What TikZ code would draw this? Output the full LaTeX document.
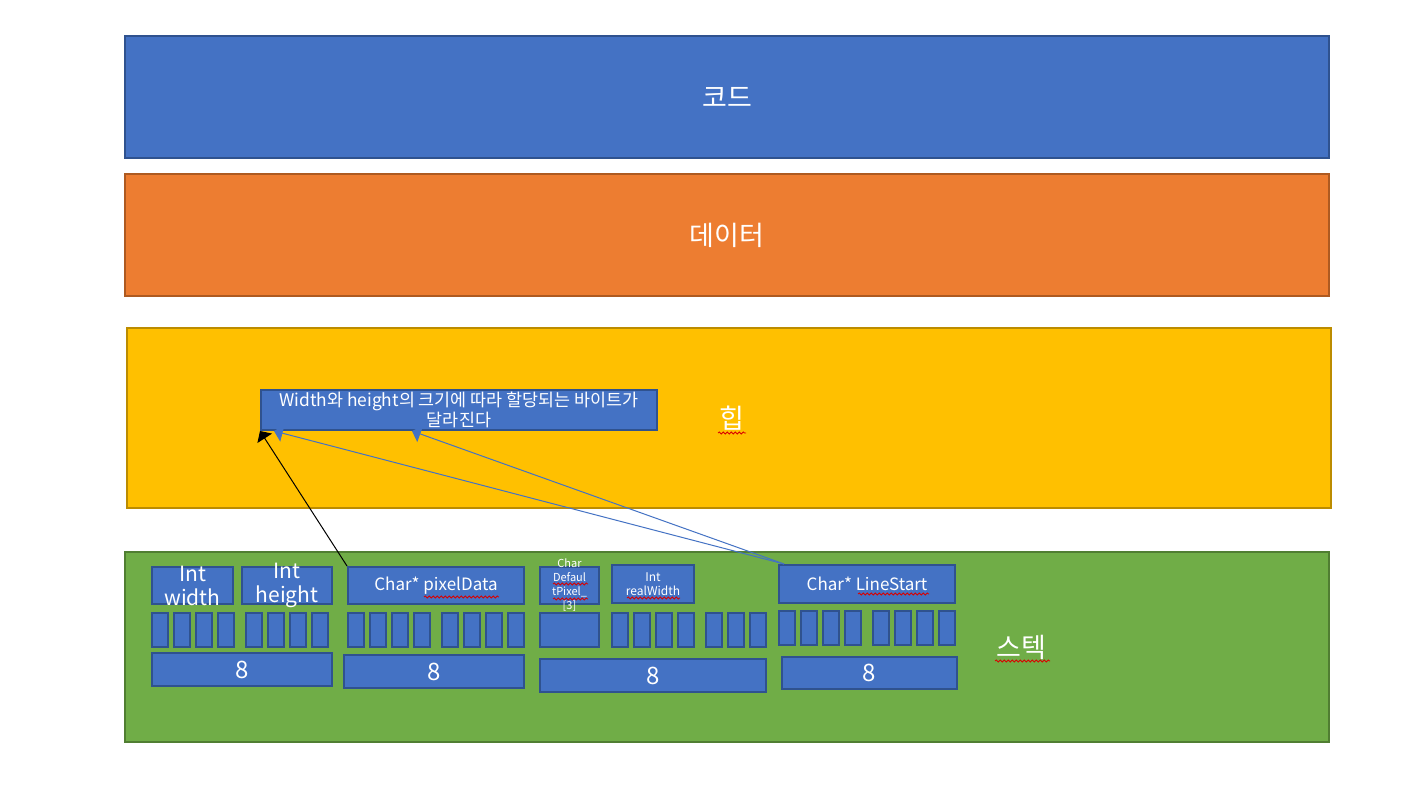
\documentclass[tikz,border=0pt]{standalone}
\usepackage{fontspec}
\setmainfont{Noto Sans CJK KR}
\usetikzlibrary{arrows,fit}
\usetikzlibrary{decorations.pathmorphing}

\definecolor{memblue}{HTML}{4472C4}
\definecolor{memblueedge}{HTML}{2F528F}
\definecolor{memorange}{HTML}{ED7D31}
\definecolor{memorangeedge}{HTML}{AE5A21}
\definecolor{memyellow}{HTML}{FFC000}
\definecolor{memyellowedge}{HTML}{BC8C00}
\definecolor{memgreen}{HTML}{70AD47}
\definecolor{memgreenedge}{HTML}{507E32}

\begin{document}
\begin{tikzpicture}[x=0.5pt, y=-0.5pt, >=triangle 90,
  seg/.style={draw, line width=1pt, inner sep=0pt},
  cell/.style={draw=memblueedge, fill=memblue, line width=1pt, inner sep=0pt},
  byte/.style={cell, minimum width=8pt, minimum height=17pt},
  lbl/.style={text=white, align=center, inner sep=0pt},
  big/.style={lbl, font=\fontsize{13.5}{16}\selectfont},
  spell/.style={red!85!black, line width=0.4pt, decorate,
    decoration={snake, amplitude=0.5pt, segment length=2pt}}]
\useasboundingbox [fill=white] (0,0) rectangle (1413,785);

% memory segments
\node [seg, draw=memblueedge, fill=memblue, fit={(125,36) (1329,158)},
  label={[big]center:코드}] (code) {};
\node [seg, draw=memorangeedge, fill=memorange, fit={(125,174) (1329,296)},
  label={[big]center:데이터}] (data) {};
\node [seg, draw=memyellowedge, fill=memyellow, fit={(127,328) (1331,508)}] (heap) {};
\node [seg, draw=memgreenedge, fill=memgreen, fit={(125,552) (1329,742)}] (stack) {};
\node [big] (heaplbl) at (732,418) {힙};
\node [big] (stacklbl) at (1021,647) {스텍};

% heap note
\node [cell, fit={(261,390) (657,430)},
  label={[lbl, font=\fontsize{8.7}{10}\selectfont]center:Width와 height의 크기에 따라 할당되는 바이트가\\달라진다}] (note) {};

% stack variables
\node [cell, fit={(152,567) (233,604)},
  label={[lbl, font=\fontsize{10.5}{12}\selectfont]center:Int\\width}] (iwidth) {};
\node [cell, fit={(242,567) (332,604)},
  label={[lbl, font=\fontsize{10.5}{12}\selectfont]center:Int\\height}] (iheight) {};
\node [cell, fit={(348,567) (524,604)},
  label={[lbl, font=\fontsize{8.5}{10}\selectfont]center:Char* pixelData}] (pdata) {};
\node [cell, fit={(540,567) (599,604)},
  label={[lbl, font=\fontsize{5.5}{7}\selectfont]center:Char\\Defaul\\tPixel\_\\{[3]}}] (dpixel) {};
\node [cell, fit={(612,565) (694,603)},
  label={[lbl, font=\fontsize{6}{7}\selectfont]center:Int\\realWidth}] (rwidth) {};
\node [cell, fit={(779,565) (955,603)},
  label={[lbl, font=\fontsize{8.5}{10}\selectfont]center:Char* LineStart}] (lstart) {};

% bytes
\node [byte] (w1) at (160,630) {}; \node [byte] (w2) at (182,630) {};
\node [byte] (w3) at (204,630) {}; \node [byte] (w4) at (226,630) {};
\node [byte] (h1) at (254,630) {}; \node [byte] (h2) at (276,630) {};
\node [byte] (h3) at (298,630) {}; \node [byte] (h4) at (320,630) {};
\node [byte] (p1) at (356,630) {}; \node [byte] (p2) at (378,630) {};
\node [byte] (p3) at (400,630) {}; \node [byte] (p4) at (422,630) {};
\node [byte] (p5) at (450,630) {}; \node [byte] (p6) at (472,630) {};
\node [byte] (p7) at (494,630) {}; \node [byte] (p8) at (516,630) {};
\node [cell, fit={(540,613) (599,647)}] (d1) {};
\node [byte] (r1) at (620,630) {}; \node [byte] (r2) at (642,630) {};
\node [byte] (r3) at (664,630) {}; \node [byte] (r4) at (686,630) {};
\node [byte] (r5) at (714,630) {}; \node [byte] (r6) at (736,630) {};
\node [byte] (r7) at (758,630) {};
\node [byte] (l1) at (787,627.5) {}; \node [byte] (l2) at (809,627.5) {};
\node [byte] (l3) at (831,627.5) {}; \node [byte] (l4) at (853,627.5) {};
\node [byte] (l5) at (881,627.5) {}; \node [byte] (l6) at (903,627.5) {};
\node [byte] (l7) at (925,627.5) {}; \node [byte] (l8) at (947,627.5) {};

% sizes
\begin{scope}[every label/.style={lbl, font=\fontsize{12}{14}\selectfont}]
  \node [cell, fit={(152,653) (332,686)}, label=center:8] (s1) {};
  \node [cell, fit={(344,655) (524,688)}, label=center:8] (s2) {};
  \node [cell, fit={(540,659) (766,692)}, label=center:8] (s3) {};
  \node [cell, fit={(782,657) (957,689)}, label=center:8] (s4) {};
\end{scope}

% spell check marks
\draw [spell] (718,433) -- (746,433);
\draw [spell] (995,661) -- (1050,661);
\draw [spell] (424,597) -- (499,597);
\draw [spell] (858,594) -- (929,594);
\draw [spell] (553,584) -- (588,584);
\draw [spell] (553,599) -- (588,599);
\draw [spell] (627,598) -- (680,598);

% pointers
\coordinate (tipA) at ([xshift=7pt]note.south west);
\coordinate (tipB) at ([xshift=76pt]note.south west);
\coordinate (lsfrom) at ([xshift=3pt]lstart.north west);
\draw [->, line width=0.5pt] (pdata.north west) -- (note.south west);
\draw [->, line width=0.5pt, memblue] (lsfrom) -- (tipA);
\draw [->, line width=0.5pt, memblue] (lsfrom) -- (tipB);
\end{tikzpicture}
\end{document}
